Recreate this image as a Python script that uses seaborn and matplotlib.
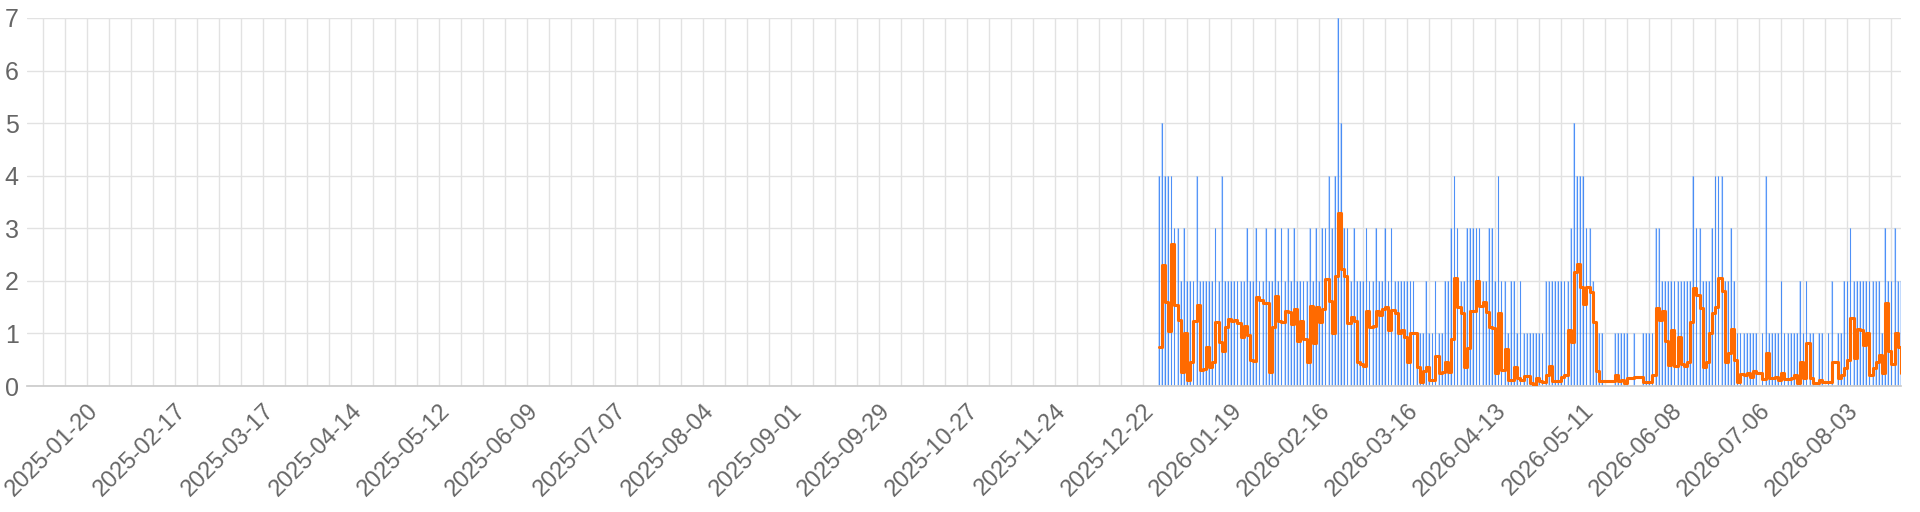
import numpy as np
import pandas as pd
import matplotlib
matplotlib.use("Agg")
import matplotlib.pyplot as plt
import seaborn as sns

sns.set_theme(style="white")
plt.rcParams["font.family"] = ["Liberation Sans", "DejaVu Sans"]

START = "2025-12-27"
nan = np.nan

# daily mean (orange)
avg_values = [
    0.75, 2.3, 1.6, 1.05, 2.7, 1.55, 1.25, 0.27, 1.0, 0.12, 0.46, 1.24, 1.54, 0.3, 0.33, 0.75, 0.37, 0.46, 1.22, 0.84,
    0.66, 1.13, 1.28, 1.24, 1.25, 1.2, 0.94, 1.14, 0.98, 0.5, 0.47, 1.7, 1.63, 1.57, 1.58, 0.27, 1.13, 1.72, 1.24,
    1.22, 1.42, 1.4, 1.18, 1.47, 0.86, 1.24, 0.9, 0.46, 1.53, 0.81, 1.5, 1.22, 1.47, 2.04, 1.62, 1.0, 2.1, 3.3, 2.23,
    2.09, 1.19, 1.32, 1.24, 0.46, 0.42, 0.38, 1.42, 1.13, 1.14, 1.42, 1.35, 1.47, 1.5, 1.06, 1.45, 1.38, 1.0, 1.06,
    0.94, 0.46, 1.0, 1.0, 0.37, 0.08, 0.29, 0.37, 0.11, 0.12, 0.57, 0.25, 0.27, 0.46, 0.27, 0.89, 2.06, 1.5, 1.38, 0.37,
    0.72, 1.43, 1.43, 2.0, 1.52, 1.6, 1.41, 1.13, 1.1, 0.25, 1.39, 0.3, 0.7, 0.11, 0.11, 0.37, 0.16, 0.12, 0.19,
    0.19, 0.05, 0, 0.16, 0.1, 0.08, 0.21, 0.38, 0.1, 0.1, 0.1, 0.18, 0.21, 1.06, 0.84, 2.17, 2.32, 1.89, 1.56, 1.89,
    1.79, 1.22, 0.29, 0.09, 0.09, nan, nan, nan, 0.21, 0.1, 0.12, 0.05, 0.15, nan, 0.18, nan, nan, 0.08, 0.08,
    0.08, 0.21, 1.49, 1.25, 1.43, 0.85, 0.4, 1.06, 0.38, 0.94, 0.41, 0.38, 0.46, 1.22, 1.87, 1.73, 1.49, 0.37, 0.46, 1.0,
    1.39, 1.5, 2.06, 1.8, 0.46, 0.63, 1.08, 0.49, 0.08, 0.23, 0.21, 0.25, 0.18, 0.29, 0.25, nan, 0.13, 0.62, 0.16,
    0.16, 0.18, 0.11, 0.25, 0.13, 0.13, 0.16, 0.21, 0.05, 0.46, 0.16, 0.82, 0.15, 0.05, nan, 0.11, 0.08, nan, 0.08, 0.46,
    nan, 0.16, 0.21, 0.34, 0.49, 1.3, 0.54, 1.08, 1.06, 0.79, 1.0, 0.21, 0.34, 0.46, 0.59, 0.25, 1.58, 0.66, 0.42, 1.0,
    0.75, 0.24, 0.06,
]

# daily peak of the raw counts (blue)
peak_values = [
    4, 5, 4, 4, 4, 3, 3, 2, 3, 2, 2, 2, 4, 2, 2, 2, 2, 2, 3, 2, 4, 2, 2, 2, 2, 2, 2, 2, 3, 2, 2, 3, 2, 2, 3, 2, 2, 3, 2,
    3, 2, 3, 2, 3, 2, 2, 2, 2, 3, 2, 3, 2, 3, 3, 4, 3, 4, 7, 5, 3, 3, 2, 3, 2, 2, 2, 3, 2, 2, 3, 2, 2, 3, 2, 3, 2, 2, 2,
    2, 2, 2, 2, 1, 1, 1, 2, 1, 1, 2, 1, 1, 2, 2, 3, 4, 3, 2, 2, 3, 3, 3, 3, 3, 2, 2, 3, 3, 2, 4, 2, 2, 1, 2, 2, 1, 2, 1,
    1, 1, 1, 1, 1, 1, 2, 2, 2, 2, 2, 2, 2, 2, 3, 5, 4, 4, 4, 3, 3, 2, 1, 1, 1, 0, 0, 0, 1, 1, 1, 1, 1, 0, 1, 0, 0, 1, 1,
    1, 1, 3, 3, 2, 2, 2, 2, 2, 2, 2, 2, 2, 2, 4, 3, 3, 2, 2, 2, 3, 4, 4, 4, 2, 2, 3, 2, 1, 1, 1, 1, 1, 1, 1, 0, 1, 4, 1,
    1, 1, 1, 2, 1, 1, 1, 1, 1, 2, 1, 2, 1, 1, 0, 1, 1, 0, 1, 2, 0, 1, 1, 2, 2, 3, 2, 2, 2, 2, 2, 2, 2, 2, 2, 1, 3, 2, 2,
    3, 2, 2, 1,
]

days = pd.date_range(START, periods=len(avg_values), freq="D")
df = pd.DataFrame({"day": days, "avg": avg_values, "peak": peak_values})

fig = plt.figure(figsize=(19.2, 5.12), dpi=100)
ax = fig.add_axes([0.014, 0.246, 0.976, 0.719])

# blue raw counts
ax.bar(df["day"], df["peak"], width=0.5, color="#7ab0ff", alpha=0.4, linewidth=0, zorder=2)
ax.vlines(df["day"], 0, df["peak"], color="#2f7df6", linewidth=0.8, alpha=0.8, zorder=2)

# orange daily mean, stepped
sns.lineplot(data=df, x="day", y="avg", ax=ax, drawstyle="steps-post",
             color="#ff6a00", linewidth=2.2, zorder=3)

ax.set_xlim(pd.Timestamp("2025-01-01"), pd.Timestamp("2026-08-20"))
ax.set_ylim(0, 7)
ax.set_xlabel("")
ax.set_ylabel("")

label_days = pd.date_range("2025-01-20", "2026-08-20", freq="28D")
week_days = pd.date_range("2025-01-06", "2026-08-20", freq="7D")
ax.set_xticks(label_days)
ax.set_xticklabels([d.strftime("%Y-%m-%d") for d in label_days], rotation=45,
                   ha="right", rotation_mode="anchor", fontsize=17, color="#666666")
ax.set_xticks(week_days, minor=True)
ax.set_yticks(range(0, 8))
ax.tick_params(axis="y", labelsize=18, labelcolor="#666666", length=0, pad=6)
ax.tick_params(axis="x", which="both", length=8, color="#dddddd", pad=2)

ax.grid(True, which="both", color="#e2e2e2", linewidth=1, zorder=0)
ax.set_axisbelow(True)
for side in ["top", "right", "left"]:
    ax.spines[side].set_visible(False)
ax.spines["bottom"].set_color("#cccccc")

plt.savefig("out.png", dpi=100)
plt.close(fig)
